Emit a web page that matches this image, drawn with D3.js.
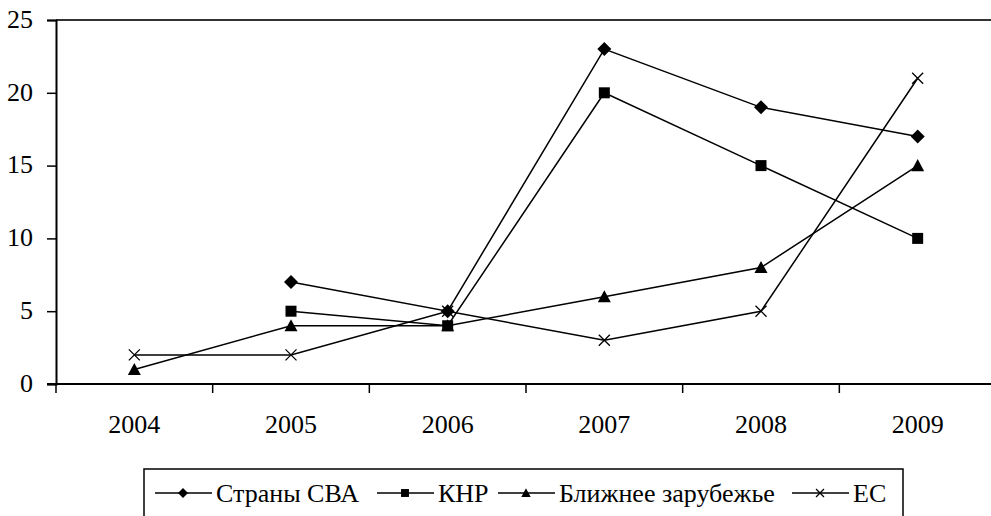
<!DOCTYPE html>
<html>
<head>
<meta charset="utf-8">
<script src="https://cdn.jsdelivr.net/npm/d3@7"></script>
<style>
  body { margin: 0; background: #fff; }
</style>
</head>
<body>
<div id="chart"></div>
<script>
var years = ['2004', '2005', '2006', '2007', '2008', '2009'];
var yTicks = [0, 5, 10, 15, 20, 25];

// null = нет точки
var strany = [null, 7, 5, 23, 19, 17];
var knr = [null, 5, 4, 20, 15, 10];
var blizh = [1, 4, 4, 6, 8, 15];
var es = [2, 2, 5, 3, 5, 21];

var seriesNames = ['Страны СВА', 'КНР', 'Ближнее зарубежье', 'ЕС'];
var seriesData = [strany, knr, blizh, es];
var seriesMarks = ['diamond', 'square', 'triangle', 'cross'];

var width = 991, height = 516;
var plot = {left: 56, right: 996, top: 20, bottom: 384};
var fontFam = "'Liberation Serif'";
var fontSize = 26;

var svg = d3.select('#chart')
    .append('svg')
    .attr('width', width)
    .attr('height', height);

var x = d3.scaleBand()
    .domain(years)
    .range([plot.left, plot.right])
    .padding(0);

var y = d3.scaleLinear()
    .domain([0, 25])
    .range([plot.bottom, plot.top]);

// верхняя и правая рамка
svg.append('path')
    .attr('d', 'M' + plot.left + ' ' + plot.top + ' H' + plot.right + ' V' + plot.bottom)
    .attr('fill', 'none')
    .attr('stroke', '#333')
    .attr('stroke-width', 2);

// ось Y
var yAxis = svg.append('g')
    .attr('transform', 'translate(' + plot.left + ',0)')
    .call(d3.axisLeft(y).tickValues(yTicks).tickSize(9).tickPadding(14));
yAxis.select('.domain').attr('stroke', '#000').attr('stroke-width', 2);
yAxis.selectAll('.tick line').attr('stroke', '#000').attr('stroke-width', 1.5);
yAxis.selectAll('.tick text')
    .attr('dy', '0.28em')
    .style('font-family', fontFam)
    .style('font-size', fontSize + 'px');

// ось X: подписи по центру, засечки на границах
var xAxis = svg.append('g')
    .attr('transform', 'translate(0,' + plot.bottom + ')')
    .call(d3.axisBottom(x).tickSize(0).tickPadding(31));
xAxis.select('.domain').remove();
xAxis.selectAll('.tick text')
    .style('font-family', fontFam)
    .style('font-size', fontSize + 'px');

svg.append('line')
    .attr('x1', plot.left - 9).attr('x2', plot.right)
    .attr('y1', plot.bottom).attr('y2', plot.bottom)
    .attr('stroke', '#000').attr('stroke-width', 2);

svg.selectAll('.xtick')
    .data(years)
    .enter().append('line')
    .attr('class', 'xtick')
    .attr('x1', function(d){ return x(d); })
    .attr('x2', function(d){ return x(d); })
    .attr('y1', plot.bottom)
    .attr('y2', plot.bottom + 9)
    .attr('stroke', '#000')
    .attr('stroke-width', 1.5);

function cx(i){ return x(years[i]) + x.bandwidth() / 2; }

// k - масштаб маркера (в легенде меньше)
function drawMark(g, type, px, py, k){
    if(type == 'diamond'){
        var r = 7 * k;
        g.append('path')
            .attr('d', 'M' + px + ' ' + (py - r) + ' L' + (px + r) + ' ' + py + ' L' + px + ' ' + (py + r) + ' L' + (px - r) + ' ' + py + 'Z')
            .attr('fill', '#000');
    }else if(type == 'square'){
        var h = 5.5 * k;
        g.append('rect')
            .attr('x', px - h).attr('y', py - h)
            .attr('width', 2 * h).attr('height', 2 * h)
            .attr('fill', '#000');
    }else if(type == 'triangle'){
        var t = 6.5 * k;
        g.append('path')
            .attr('d', 'M' + px + ' ' + (py - t) + ' L' + (px + t) + ' ' + (py + t * 0.85) + ' L' + (px - t) + ' ' + (py + t * 0.85) + 'Z')
            .attr('fill', '#000');
    }else{
        var c = 5.5 * k;
        g.append('path')
            .attr('d', 'M' + (px - c) + ' ' + (py - c) + ' L' + (px + c) + ' ' + (py + c) + ' M' + (px + c) + ' ' + (py - c) + ' L' + (px - c) + ' ' + (py + c))
            .attr('stroke', '#000')
            .attr('stroke-width', 1.3)
            .attr('fill', 'none');
    }
}

var line = d3.line()
    .defined(function(d){ return d != null; })
    .x(function(d, i){ return cx(i); })
    .y(function(d){ return y(d); });

seriesData.forEach(function(vals, s){
    var g = svg.append('g').attr('class', 'series');
    g.append('path')
        .datum(vals)
        .attr('d', line)
        .attr('fill', 'none')
        .attr('stroke', '#000')
        .attr('stroke-width', 1.5);
    vals.forEach(function(v, i){
        if(v != null){
            drawMark(g, seriesMarks[s], cx(i), y(v), 1);
        }
    });
});

// легенда
var legend = svg.append('g');
legend.append('rect')
    .attr('x', 144).attr('y', 469)
    .attr('width', 759).attr('height', 60)
    .attr('fill', 'none')
    .attr('stroke', '#000')
    .attr('stroke-width', 1.5);

var legendX = [155, 377, 498, 792];
var legendY = 493;
seriesNames.forEach(function(name, s){
    var lx = legendX[s];
    legend.append('line')
        .attr('x1', lx).attr('x2', lx + 57)
        .attr('y1', legendY).attr('y2', legendY)
        .attr('stroke', '#000').attr('stroke-width', 1.5);
    drawMark(legend, seriesMarks[s], lx + 28, legendY, 0.72);
    legend.append('text')
        .attr('x', lx + 61)
        .attr('y', legendY)
        .attr('dy', '0.33em')
        .style('font-family', fontFam)
        .style('font-size', fontSize + 'px')
        .text(name);
});
</script>
</body>
</html>
